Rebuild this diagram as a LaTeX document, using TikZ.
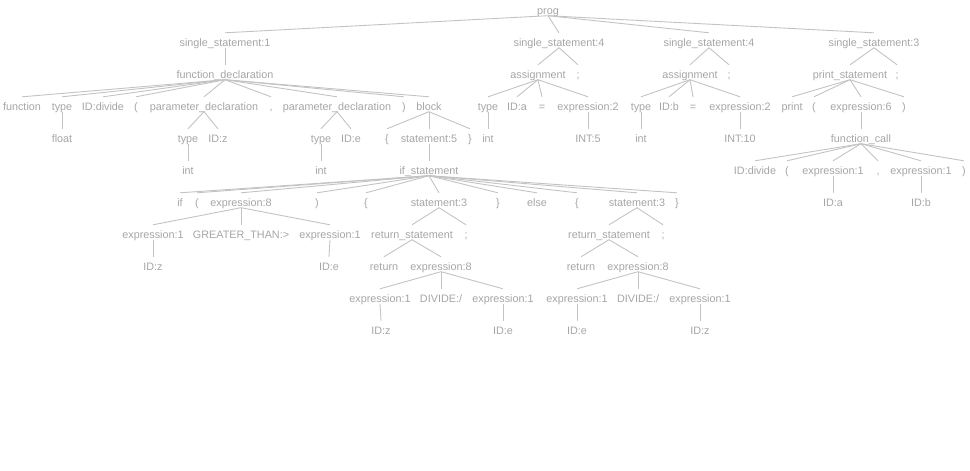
\documentclass[tikz,border=0pt]{standalone}
\usepackage{fontspec}
\setmainfont{Liberation Sans}
\definecolor{txtc}{RGB}{165,165,165}
\definecolor{linec}{RGB}{195,195,195}
\begin{document}
\begin{tikzpicture}[x=1pt,y=-1pt,
  tn/.style={anchor=base, inner xsep=1pt, inner ysep=0pt,
    text height=13pt, text depth=1.5pt, text=txtc,
    font=\fontsize{10.8}{12}\selectfont},
  ed/.style={draw=linec, line width=0.9pt}]
\useasboundingbox (0,0) rectangle (970,471);

% level 0
\node[tn] (prog) at (548,14) {prog};
% level 1
\node[tn] (ssa) at (225,46) {single\_statement:1};
\node[tn] (ssb) at (559,46) {single\_statement:4};
\node[tn] (ssc) at (709,46) {single\_statement:4};
\node[tn] (ssd) at (874,46) {single\_statement:3};
% level 2
\node[tn] (fd)  at (225,78) {function\_declaration};
\node[tn] (asa) at (538,78) {assignment};
\node[tn] (sca) at (578,78) {;};
\node[tn] (asb) at (690,78) {assignment};
\node[tn] (scb) at (729,78) {;};
\node[tn] (ps)  at (850,78) {print\_statement};
\node[tn] (scc) at (897,78) {;};
% level 3
\node[tn] (fkw) at (22,110) {function};
\node[tn] (fty) at (62,110) {type};
\node[tn] (fid) at (103,110) {ID:divide};
\node[tn] (flp) at (136,110) {(};
\node[tn] (pda) at (204,110) {parameter\_declaration};
\node[tn] (fcm) at (271,110) {,};
\node[tn] (pdb) at (337,110) {parameter\_declaration};
\node[tn] (frp) at (404,110) {)};
\node[tn] (blk) at (429,110) {block};
\node[tn] (aty) at (488,110) {type};
\node[tn] (aid) at (517,110) {ID:a};
\node[tn] (aeq) at (542,110) {=};
\node[tn] (aex) at (588,110) {expression:2};
\node[tn] (bty) at (641,110) {type};
\node[tn] (bid) at (669,110) {ID:b};
\node[tn] (beq) at (693,110) {=};
\node[tn] (bex) at (740,110) {expression:2};
\node[tn] (pkw) at (792,110) {print};
\node[tn] (plp) at (814,110) {(};
\node[tn] (pex) at (861,110) {expression:6};
\node[tn] (prp) at (904,110) {)};
% level 4
\node[tn] (flt)  at (62,142) {float};
\node[tn] (paty) at (188,142) {type};
\node[tn] (paid) at (218,142) {ID:z};
\node[tn] (pbty) at (321,142) {type};
\node[tn] (pbid) at (351,142) {ID:e};
\node[tn] (blb)  at (387,142) {\{};
\node[tn] (stf)  at (429,142) {statement:5};
\node[tn] (brb)  at (470,142) {\}};
\node[tn] (aint) at (488,142) {int};
\node[tn] (aval) at (588,142) {INT:5};
\node[tn] (bint) at (641,142) {int};
\node[tn] (bval) at (740,142) {INT:10};
\node[tn] (fc)   at (861,142) {function\_call};
% level 5
\node[tn] (pait) at (188,174) {int};
\node[tn] (pbit) at (321,174) {int};
\node[tn] (ifs)  at (429,174) {if\_statement};
\node[tn] (cid)  at (755,174) {ID:divide};
\node[tn] (clp)  at (787,174) {(};
\node[tn] (cxa)  at (833,174) {expression:1};
\node[tn] (ccm)  at (878,174) {,};
\node[tn] (cxb)  at (921,174) {expression:1};
\node[tn] (crp)  at (964,174) {)};
% level 6
\node[tn] (ikw) at (180,206) {if};
\node[tn] (ilp) at (197,206) {(};
\node[tn] (iex) at (241,206) {expression:8};
\node[tn] (irp) at (317,206) {)};
\node[tn] (ilb) at (366,206) {\{};
\node[tn] (ist) at (439,206) {statement:3};
\node[tn] (irb) at (498,206) {\}};
\node[tn] (iel) at (537,206) {else};
\node[tn] (elb) at (577,206) {\{};
\node[tn] (est) at (637,206) {statement:3};
\node[tn] (erb) at (677,206) {\}};
\node[tn] (cia) at (833,206) {ID:a};
\node[tn] (cib) at (921,206) {ID:b};
% level 7
\node[tn] (gxa) at (153,238) {expression:1};
\node[tn] (ggt) at (241,238) {GREATER\_THAN:>};
\node[tn] (gxb) at (330,238) {expression:1};
\node[tn] (rsa) at (412,238) {return\_statement};
\node[tn] (rsc) at (466,238) {;};
\node[tn] (rsb) at (609,238) {return\_statement};
\node[tn] (rsd) at (663,238) {;};
% level 8
\node[tn] (gza) at (153,270) {ID:z};
\node[tn] (gzb) at (329,270) {ID:e};
\node[tn] (rka) at (384,270) {return};
\node[tn] (rxa) at (441,270) {expression:8};
\node[tn] (rkb) at (581,270) {return};
\node[tn] (rxb) at (638,270) {expression:8};
% level 9
\node[tn] (dxa) at (380,302) {expression:1};
\node[tn] (dva) at (441,302) {DIVIDE:/};
\node[tn] (dxb) at (503,302) {expression:1};
\node[tn] (dxc) at (577,302) {expression:1};
\node[tn] (dvb) at (638,302) {DIVIDE:/};
\node[tn] (dxd) at (700,302) {expression:1};
% level 10
\node[tn] (dia) at (381,334) {ID:z};
\node[tn] (dib) at (503,334) {ID:e};
\node[tn] (dic) at (577,334) {ID:e};
\node[tn] (did) at (700,334) {ID:z};

% connectors
\foreach \p/\c in {prog/ssa, prog/ssb, prog/ssc, prog/ssd,
  ssa/fd, ssb/asa, ssb/sca, ssc/asb, ssc/scb, ssd/ps, ssd/scc,
  fd/fkw, fd/fty, fd/fid, fd/flp, fd/pda, fd/fcm, fd/pdb, fd/frp, fd/blk,
  asa/aty, asa/aid, asa/aeq, asa/aex,
  asb/bty, asb/bid, asb/beq, asb/bex,
  ps/pkw, ps/plp, ps/pex, ps/prp,
  fty/flt, pda/paty, pda/paid, pdb/pbty, pdb/pbid,
  blk/blb, blk/stf, blk/brb,
  aty/aint, aex/aval, bty/bint, bex/bval, pex/fc,
  paty/pait, pbty/pbit, stf/ifs,
  fc/cid, fc/clp, fc/cxa, fc/ccm, fc/cxb, fc/crp,
  ifs/ikw, ifs/ilp, ifs/iex, ifs/irp, ifs/ilb, ifs/ist, ifs/irb,
  ifs/iel, ifs/elb, ifs/est, ifs/erb,
  cxa/cia, cxb/cib,
  iex/gxa, iex/ggt, iex/gxb, ist/rsa, ist/rsc, est/rsb, est/rsd,
  gxa/gza, gxb/gzb, rsa/rka, rsa/rxa, rsb/rkb, rsb/rxb,
  rxa/dxa, rxa/dva, rxa/dxb, rxb/dxc, rxb/dvb, rxb/dxd,
  dxa/dia, dxb/dib, dxc/dic, dxd/did}
  \draw[ed] (\p.south) -- (\c.north);
\end{tikzpicture}
\end{document}
